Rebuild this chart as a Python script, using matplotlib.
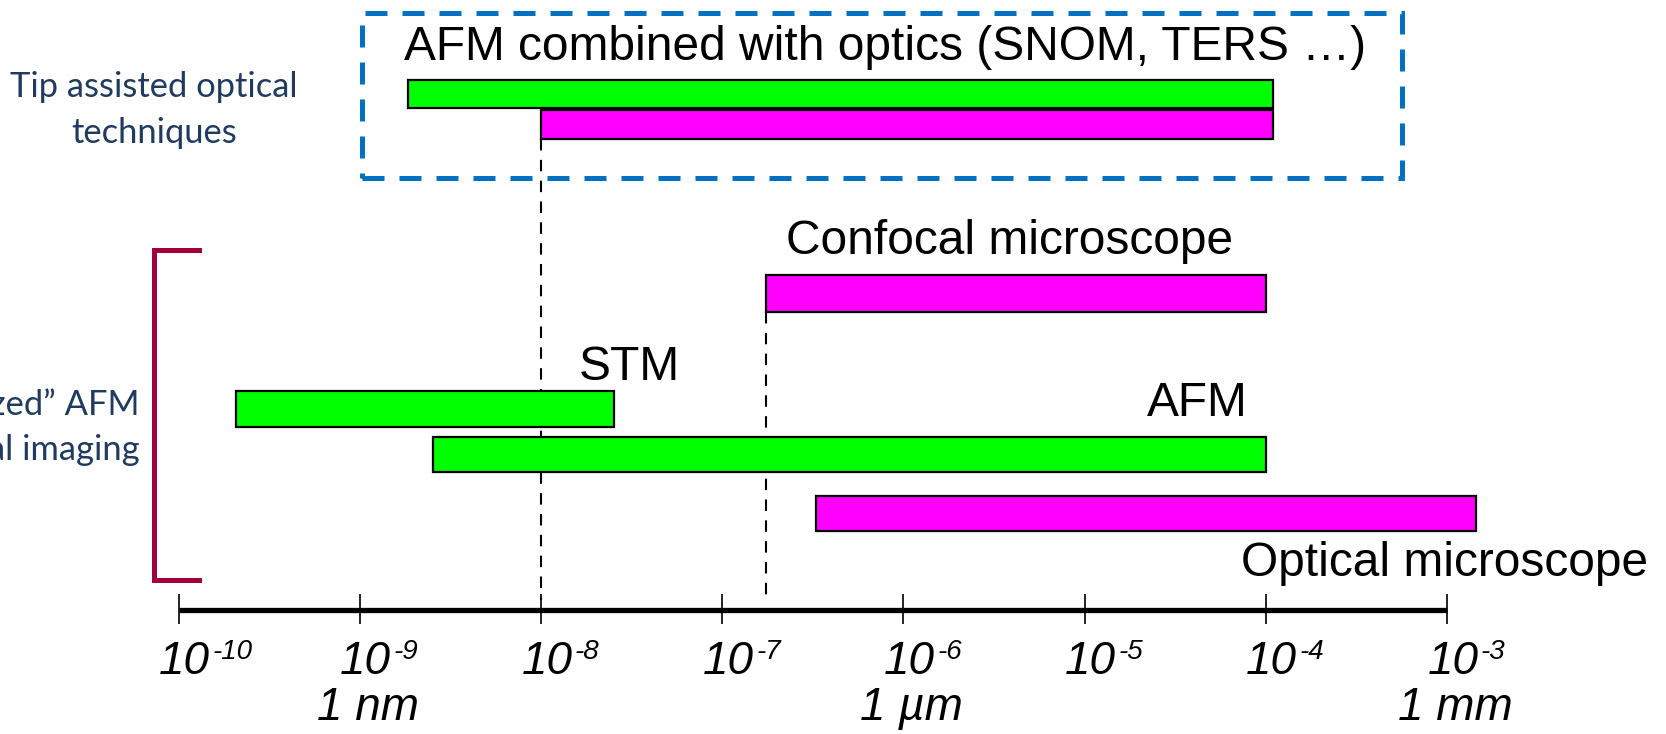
import matplotlib
matplotlib.use("Agg")
import matplotlib.pyplot as plt
from matplotlib.transforms import ScaledTranslation
from matplotlib.patches import Rectangle

plt.rcParams['font.family'] = ['Liberation Sans', 'DejaVu Sans']

# ---- data ----
bar_labels = ["AFM+optics (tip)", "AFM+optics (optical)", "Confocal microscope",
              "STM", "AFM", "Optical microscope"]
bar_start = [1.85e-9, 1.0e-8, 1.75e-7, 2.07e-10, 2.53e-9, 3.3e-7]
bar_end = [1.1e-4, 1.1e-4, 1.0e-4, 2.53e-8, 1.0e-4, 1.45e-3]
bar_colors = ["#00FF00", "#FF00FF", "#FF00FF", "#00FF00", "#00FF00", "#FF00FF"]
decades = [1e-10, 1e-9, 1e-8, 1e-7, 1e-6, 1e-5, 1e-4, 1e-3]
decade_base = "10"
decade_exps = ["-10", "-9", "-8", "-7", "-6", "-5", "-4", "-3"]
unit_pos = [1e-9, 1e-6, 1e-3]
unit_labels = ["1 nm", "1 \u00b5m", "1 mm"]
dash_refs = [1e-8, 1.75e-7]
annot_text = ["AFM combined with optics (SNOM, TERS \u2026)", "Confocal microscope",
              "STM", "AFM", "Optical microscope"]
annot_x = [1.75e-9, 2.25e-7, 1.62e-8, 2.2e-5, 7.3e-5]

# ---- layout (pixel rows, y measured from top) ----
bar_y = [94, 124.5, 293.5, 409, 454.5, 513.5]
bar_h = [28, 29, 37, 36, 35, 35]
annot_y = [48, 242, 367, 404, 563]

W, H = 1666, 734
fig = plt.figure(figsize=(W / 100, H / 100), dpi=100)
ax = fig.add_axes([0, 0, 1, 1])
ax.set_xscale('log')
ax.set_xlim(10 ** -10.9857, 10 ** -1.7914)
ax.set_ylim(H, 0)
ax.axis('off')

# bars
for s, e, c, y, h in zip(bar_start, bar_end, bar_colors, bar_y, bar_h):
    ax.barh(y, e - s, left=s, height=h, color=c, edgecolor='black', linewidth=1.6, zorder=3)

# dashed reference lines
ax.vlines(dash_refs[0], bar_y[1] + bar_h[1] / 2, 600, colors='black',
          linestyles=(0, (5.5, 4.5)), linewidth=1.5, zorder=2)
ax.vlines(dash_refs[1], bar_y[2] + bar_h[2] / 2, 598, colors='black',
          linestyles=(0, (5.5, 4.5)), linewidth=1.5, zorder=2)

# axis line and ticks
ax.plot([decades[0], decades[-1]], [609.5, 609.5], color='black', linewidth=3.8,
        solid_capstyle='butt', zorder=4)
ax.vlines(decades, 594, 624, colors='black', linewidth=1.2, zorder=4)

def px(dx):
    return ScaledTranslation(dx / 100, 0, fig.dpi_scale_trans)

for v, ex in zip(decades, decade_exps):
    ax.text(v, 674, decade_base, ha='center', va='baseline', fontsize=33, style='italic',
            transform=ax.transData + px(6))
    ax.text(v, 659, ex, ha='left', va='baseline', fontsize=20, style='italic',
            transform=ax.transData + px(34))
for v, lab in zip(unit_pos, unit_labels):
    ax.text(v, 708, lab, ha='center', va='center', fontsize=33, style='italic',
            transform=ax.transData + px(8))

# bar annotations
for t, x, y in zip(annot_text, annot_x, annot_y):
    ax.text(x, y, t, ha='left', va='center', fontsize=34.5)

# dashed blue box
box = Rectangle((362 / W, 1 - 178 / H), (1402 - 362) / W, (178 - 13) / H,
                transform=fig.transFigure, fill=False, edgecolor='#0070C0',
                linewidth=3.6, linestyle=(0, (4.4, 3.0)), zorder=1)
fig.add_artist(box)

# left texts
navy = '#203A60'
fig.text(154 / W, 1 - 110 / H, "Tip assisted optical\ntechniques", ha='center', va='center',
         fontsize=24.8, color=navy, family=['Lato', 'DejaVu Sans'], linespacing=1.55)
fig.text(140 / W, 1 - 428 / H, "zed\u201d AFM\nal imaging", ha='right', va='center',
         fontsize=24.8, color=navy, family=['Lato', 'DejaVu Sans'], linespacing=1.5,
         multialignment='right')

# bracket
crim = '#A2003A'
bx = [199 / W, 154 / W, 154 / W, 199 / W]
by = [1 - 250 / H, 1 - 250 / H, 1 - 580 / H, 1 - 580 / H]
fig.add_artist(plt.Line2D(bx, by, transform=fig.transFigure, color=crim, linewidth=3.6,
                          solid_joinstyle='miter'))

fig.savefig("out.png", dpi=100)
